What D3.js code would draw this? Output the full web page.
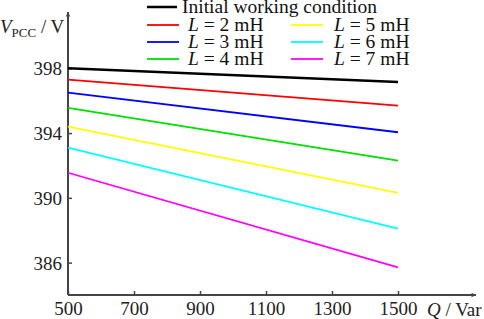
<!DOCTYPE html>
<html>
<head>
<meta charset="utf-8">
<script src="https://cdn.jsdelivr.net/npm/d3@7"></script>
<style>
  body { margin: 0; background: #fff; }
  text { font-family: 'Liberation Serif', 'Times New Roman', serif; }
</style>
</head>
<body>
<script>
// Data
const qValues = [500, 1500];
const seriesNames = ['Initial working condition', 'L = 2 mH', 'L = 3 mH', 'L = 4 mH', 'L = 5 mH', 'L = 6 mH', 'L = 7 mH'];
const seriesColors = ['#000000', '#ff0000', '#0000ff', '#00e000', '#ffff00', '#00ffff', '#ff00ff'];
const initialVals = [398.0, 397.15];
const l2Vals = [397.3, 395.7];
const l3Vals = [396.5, 394.05];
const l4Vals = [395.55, 392.3];
const l5Vals = [394.4, 390.3];
const l6Vals = [393.1, 388.1];
const l7Vals = [391.55, 385.7];
const xTicks = [500, 700, 900, 1100, 1300, 1500];
const yTicks = [386, 390, 394, 398];

const allSeries = [initialVals, l2Vals, l3Vals, l4Vals, l5Vals, l6Vals, l7Vals];

const width = 484;
const height = 319;
const axisColor = '#444';
const fontSize = '19px';

const svg = d3.select('body').append('svg')
  .attr('width', width)
  .attr('height', height);

const x = d3.scaleLinear().domain([500, 1500]).range([68, 398]);
const y = d3.scaleLinear().domain([384, 398]).range([295, 68.3]);

// arrow marker
const defs = svg.append('defs');
defs.append('marker')
  .attr('id', 'arrow')
  .attr('viewBox', '0 0 10 10')
  .attr('refX', 10)
  .attr('refY', 5)
  .attr('markerWidth', 5)
  .attr('markerHeight', 5)
  .attr('markerUnits', 'userSpaceOnUse')
  .attr('orient', 'auto')
  .append('path')
  .attr('d', 'M0,0 L10,5 L0,10 L3,5 Z')
  .attr('fill', axisColor);

// axes with inward ticks
const xAxisG = svg.append('g')
  .attr('transform', `translate(0,${y(384)})`)
  .call(d3.axisTop(x).tickValues(xTicks).tickSize(4).tickSizeOuter(0).tickFormat(''));
xAxisG.select('.domain').remove();
xAxisG.selectAll('line').attr('stroke', axisColor).attr('stroke-width', 1.5);
xAxisG.selectAll('.tick').append('text')
  .attr('y', 20)
  .attr('text-anchor', 'middle')
  .attr('fill', '#222')
  .attr('font-size', fontSize)
  .text((d) => d);

const yAxisG = svg.append('g')
  .attr('transform', `translate(${x(500)},0)`)
  .call(d3.axisRight(y).tickValues(yTicks).tickSize(4).tickSizeOuter(0).tickFormat(''));
yAxisG.select('.domain').remove();
yAxisG.selectAll('line').attr('stroke', axisColor).attr('stroke-width', 1.5);
yAxisG.selectAll('.tick').append('text')
  .attr('x', -6)
  .attr('dy', '0.35em')
  .attr('text-anchor', 'end')
  .attr('fill', '#222')
  .attr('font-size', fontSize)
  .text((d) => d);

svg.append('line')
  .attr('x1', x(500)).attr('y1', y(384))
  .attr('x2', 476).attr('y2', y(384))
  .attr('stroke', axisColor).attr('stroke-width', 2)
  .attr('marker-end', 'url(#arrow)');

svg.append('line')
  .attr('x1', x(500)).attr('y1', y(384))
  .attr('x2', x(500)).attr('y2', 12)
  .attr('stroke', axisColor).attr('stroke-width', 2)
  .attr('marker-end', 'url(#arrow)');

// axis labels
const yLab = svg.append('text')
  .attr('x', 0).attr('y', 33)
  .attr('font-size', fontSize)
  .attr('fill', '#222');
yLab.append('tspan').attr('font-style', 'italic').text('V');
yLab.append('tspan').attr('font-size', '13px').attr('dy', 4).text('PCC');
yLab.append('tspan').attr('dy', -4).text(' / V');

const xLab = svg.append('text')
  .attr('x', 427).attr('y', 316)
  .attr('font-size', fontSize)
  .attr('fill', '#222');
xLab.append('tspan').attr('font-style', 'italic').text('Q');
xLab.append('tspan').text(' / Var');

// lines
const line = d3.line()
  .x((d, i) => x(qValues[i]))
  .y((d) => y(d));

svg.append('g')
  .selectAll('path')
  .data(allSeries)
  .join('path')
  .attr('d', line)
  .attr('fill', 'none')
  .attr('stroke', (d, i) => seriesColors[i])
  .attr('stroke-width', (d, i) => (i === 0 ? 2.5 : 1.8));

// legend
const legendRows = [
  { i: 0, lx: 147, tx: 182, ty: 7 },
  { i: 1, lx: 147, tx: 188, ty: 25 },
  { i: 2, lx: 147, tx: 188, ty: 42 },
  { i: 3, lx: 147, tx: 188, ty: 59 },
  { i: 4, lx: 291, tx: 334, ty: 25 },
  { i: 5, lx: 291, tx: 334, ty: 42 },
  { i: 6, lx: 291, tx: 334, ty: 59 },
];

const legend = svg.append('g');
legendRows.forEach((r) => {
  const len = r.i === 0 ? 30 : 32;
  legend.append('line')
    .attr('x1', r.lx).attr('x2', r.lx + len)
    .attr('y1', r.ty).attr('y2', r.ty)
    .attr('stroke', seriesColors[r.i])
    .attr('stroke-width', r.i === 0 ? 2.5 : 1.8);
  const t = legend.append('text')
    .attr('x', r.tx).attr('y', r.ty + 6)
    .attr('font-size', '19.5px')
    .attr('fill', '#111');
  if (r.i === 0) {
    t.text(seriesNames[0]);
  } else {
    t.append('tspan').attr('font-style', 'italic').text('L');
    t.append('tspan').text(seriesNames[r.i].slice(1));
  }
});
</script>
</body>
</html>
